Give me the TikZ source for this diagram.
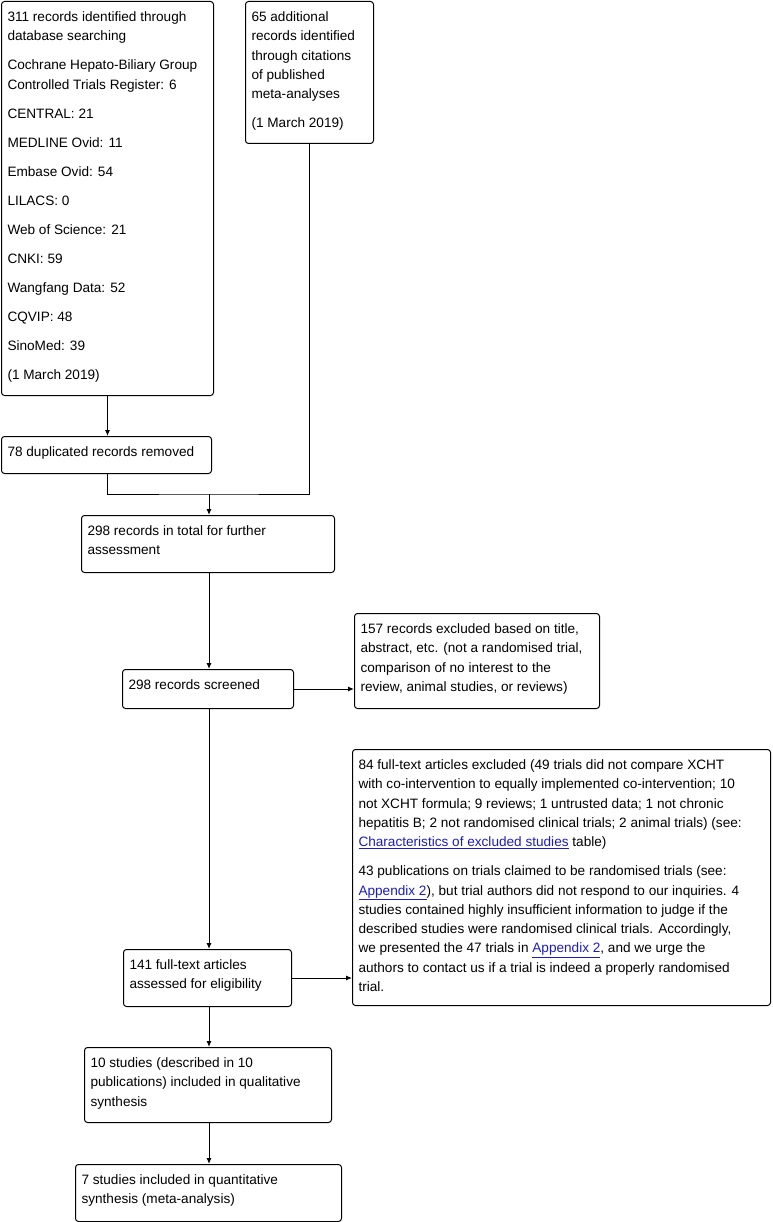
\documentclass[tikz,border=0pt]{standalone}
\usepackage{fontspec}
\setmainfont{Liberation Sans}
\usepackage{xcolor}
\usepackage{tikz}
\usetikzlibrary{arrows.meta, positioning, calc}
\definecolor{mydark}{RGB}{0,0,0}
\definecolor{linkblue}{RGB}{28,28,190}
\newcommand{\lnk}[1]{\textcolor{linkblue}{\underline{#1}}}
% fixed-size box text, top aligned, first baseline 20pt down
\newcommand{\boxtext}[3]{\parbox[c][#2][t]{#1}{\raggedright\rule{0pt}{20pt}#3}}
\tikzset{
  box/.style={draw=mydark, rounded corners=3pt, anchor=north west, inner xsep=6pt,
    inner ysep=0pt, font=\fontsize{13.6}{19.3}\selectfont, line width=1pt},
  arrow/.style={-{Latex[length=6pt,width=5pt]}, line width=1pt, color=mydark},
  line/.style={line width=1pt, color=mydark}
}

\begin{document}
\begin{tikzpicture}[x=1pt, y=-1pt]
\useasboundingbox (0,0) rectangle (772,1222);
%--- sources ---
\node[box] (srch) at (1,1) {\boxtext{200pt}{394pt}{311 records identified through\\ database searching\\[9.7pt]
  Cochrane Hepato-Biliary Group\\ Controlled Trials Register: 6\\[9.7pt]
  CENTRAL: 21\\[9.7pt] MEDLINE Ovid: 11\\[9.7pt] Embase Ovid: 54\\[9.7pt] LILACS: 0\\[9.7pt]
  Web of Science: 21\\[9.7pt] CNKI: 59\\[9.7pt] Wangfang Data: 52\\[9.7pt] CQVIP: 48\\[9.7pt]
  SinoMed: 39\\[9.7pt] (1 March 2019)}};
\node[box] (cite) at (245,1) {\boxtext{116pt}{142pt}{65 additional\\ records identified\\ through citations\\ of published\\ meta-analyses\\[9.7pt] (1 March 2019)}};
%--- duplicates ---
\node[box] (dupl) at (1,436) {\boxtext{198pt}{37pt}{78 duplicated records removed}};
\node[box] (total) at (81,515) {\boxtext{241pt}{57pt}{298 records in total for further\\ assessment}};
\coordinate (merge) at (209,494);
%--- screening ---
\node[box] (scrn) at (122,669) {\boxtext{159pt}{39pt}{298 records screened}};
\node[box] (exclA) at (354,613) {\boxtext{233pt}{95pt}{157 records excluded based on title,\\ abstract, etc. (not a randomised trial,\\ comparison of no interest to the\\ review, animal studies, or reviews)}};
%--- eligibility ---
\node[box] (full) at (123,949) {\boxtext{156pt}{57pt}{141 full-text articles\\ assessed for eligibility}};
\node[box] (exclB) at (352,749) {\boxtext{406pt}{256pt}{84 full-text articles excluded (49 trials did not compare XCHT\\
  with co-intervention to equally implemented co-intervention; 10\\
  not XCHT formula; 9 reviews; 1 untrusted data; 1 not chronic\\
  hepatitis B; 2 not randomised clinical trials; 2 animal trials) (see:\\
  \lnk{Characteristics of excluded studies} table)\\[9.7pt]
  43 publications on trials claimed to be randomised trials (see:\\
  \lnk{Appendix 2}), but trial authors did not respond to our inquiries. 4\\
  studies contained highly insufficient information to judge if the\\
  described studies were randomised clinical trials. Accordingly,\\
  we presented the 47 trials in \lnk{Appendix 2}, and we urge the\\
  authors to contact us if a trial is indeed a properly randomised\\
  trial.}};
%--- included ---
\node[box] (qual) at (84,1047) {\boxtext{235pt}{75pt}{10 studies (described in 10\\ publications) included in qualitative\\ synthesis}};
\node[box] (quant) at (75,1164) {\boxtext{254pt}{57pt}{7 studies included in quantitative\\ synthesis (meta-analysis)}};
% connectors
\draw[arrow] (srch.south) -- (srch.south |- dupl.north);
\draw[line] (dupl.south -| srch.south) |- (merge) -| (cite.south);
\draw[arrow] (merge) -- (total.north -| merge);
\draw[arrow] (total.south -| merge) -- (scrn.north -| merge);
\draw[arrow] (scrn.east) -- (scrn.east -| exclA.west);
\draw[arrow] (scrn.south -| merge) -- (full.north -| merge);
\draw[arrow] (full.east) -- (full.east -| exclB.west);
\draw[arrow] (full.south -| merge) -- (qual.north -| merge);
\draw[arrow] (qual.south -| merge) -- (quant.north -| merge);
\end{tikzpicture}
\end{document}
